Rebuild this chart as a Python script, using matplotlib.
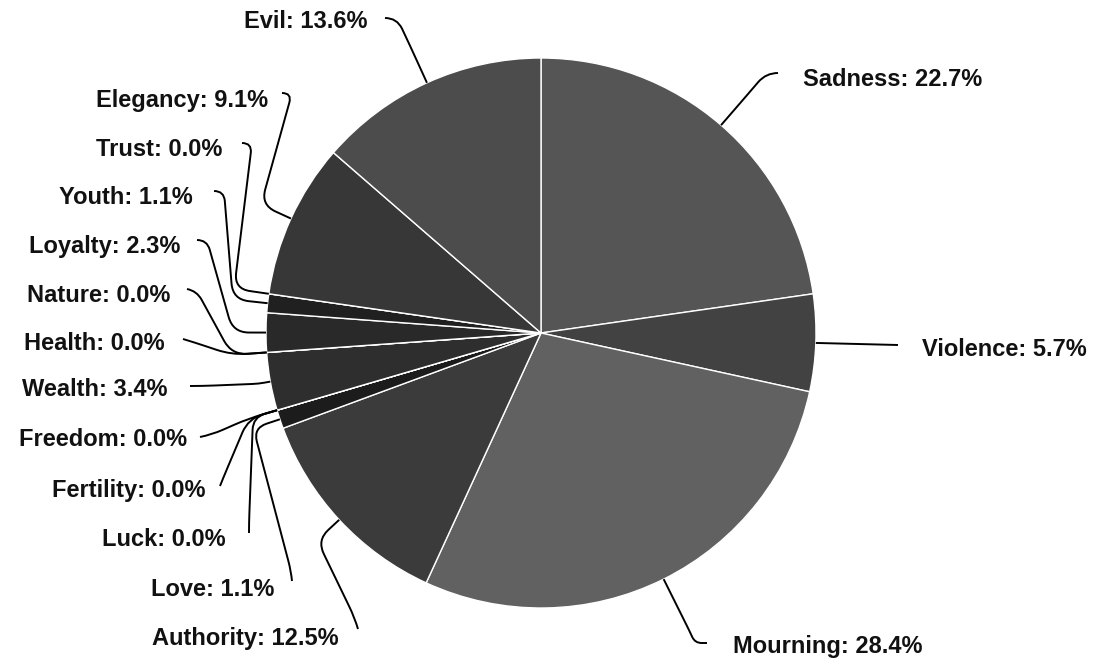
import matplotlib
matplotlib.use("Agg")
import matplotlib.pyplot as plt
from matplotlib.path import Path
from matplotlib.patches import PathPatch
import numpy as np

W, H = 1115, 659

# --- data ---
categories = ["Sadness", "Violence", "Mourning", "Authority", "Love", "Luck",
              "Fertility", "Freedom", "Wealth", "Health", "Nature", "Loyalty",
              "Youth", "Trust", "Elegancy", "Evil"]
shares = [22.7, 5.7, 28.4, 12.5, 1.1, 0.0,
          0.0, 0.0, 3.4, 0.0, 0.0, 2.3,
          1.1, 0.0, 9.1, 13.6]
greys = ["#555555", "#424242", "#616161", "#3b3b3b", "#1c1c1c", "#1c1c1c",
         "#1c1c1c", "#1c1c1c", "#2e2e2e", "#2e2e2e", "#2e2e2e", "#292929",
         "#202020", "#202020", "#373737", "#4c4c4c"]

# label layout in pixel coords (y measured from the top):
# text x, text centre y, alignment, leader end (x, y), exit direction (dx, dy),
# hook length, elbow arm
LAYOUT = {
    "Sadness":   (803, 77, "left", (778, 73), (-1, 0), 12, 40),
    "Violence":  (922, 348, "left", (898, 345), (-1, 0), 0, 0),
    "Mourning":  (733, 645, "left", (707, 643), (-1, 0), 12, 58),
    "Authority": (339, 636, "right", (358, 629), (-0.3, -1), 12, 30),
    "Love":      (274, 588, "right", (292, 581), (-0.1, -1), 10, 28),
    "Luck":      (226, 538, "right", (249, 533), (0, -1), 10, 25),
    "Fertility": (205, 489, "right", (220, 486), (0.4, -1), 10, 30),
    "Freedom":   (187, 438, "right", (200, 437), (1, -0.2), 12, 30),
    "Wealth":    (168, 388, "right", (190, 386), (1, 0), 12, 12),
    "Health":    (165, 342, "right", (183, 339), (1, 0.3), 12, 35),
    "Nature":    (170, 294, "right", (187, 289), (1, 0.2), 10, 35),
    "Loyalty":   (180, 244, "right", (197, 240), (1, 0), 10, 33),
    "Youth":     (193, 195, "right", (214, 191), (1, 0), 10, 35),
    "Trust":     (222, 147, "right", (242, 143), (1, 0), 10, 35),
    "Elegancy":  (268, 99, "right", (282, 93), (1, 0), 10, 33),
    "Evil":      (367, 20, "right", (385, 18), (1, 0), 12, 40),
}

CENTER = (541, H - 333)
RADIUS = 275
FONT = dict(family=["Liberation Sans", "DejaVu Sans"], fontweight="bold",
            fontsize=17, color="#111111")


def leader_path(pts, r=16):
    """Polyline through pts; the first corner bends straight out of the
    start point, the others are rounded with radius r."""
    pts = [np.asarray(p, float) for p in pts]
    verts, codes = [pts[0]], [Path.MOVETO]
    for i in range(1, len(pts) - 1):
        p, v, n = pts[i - 1], pts[i], pts[i + 1]
        d1, d2 = v - p, n - v
        l1, l2 = np.hypot(*d1), np.hypot(*d2)
        if l1 < 1e-6 or l2 < 1e-6:
            continue
        lim1 = l1 if i == 1 else 0.5 * l1
        rr = min(r, lim1, 0.5 * l2)
        a = v - d1 / l1 * rr
        b = v + d2 / l2 * rr
        verts += [a, v, b]
        codes += [Path.LINETO, Path.CURVE3, Path.CURVE3]
    verts.append(pts[-1])
    codes.append(Path.LINETO)
    return Path(verts, codes)


fig = plt.figure(figsize=(W / 100, H / 100), dpi=100)
ax = fig.add_axes([0, 0, 1, 1])

wedges, _ = ax.pie(shares, colors=greys, startangle=90, counterclock=False,
                   center=CENTER, radius=RADIUS,
                   wedgeprops=dict(edgecolor="white", linewidth=1.0))

for wedge, name, val in zip(wedges, categories, shares):
    tx, ty, ha, (lx, ly), (ex, ey), hook, arm = LAYOUT[name]
    mid = np.deg2rad((wedge.theta1 + wedge.theta2) / 2)
    radial = np.array([np.cos(mid), np.sin(mid)])
    edge = np.array(CENTER) + RADIUS * radial
    end = np.array([lx, H - ly], float)
    pts = [end]
    if hook:
        e = np.array([ex, -ey], float)
        pts.append(end + e / np.hypot(*e) * hook)
    if arm:
        pts.append(edge + arm * radial)
    pts.append(edge)
    ax.add_patch(PathPatch(leader_path(pts), facecolor="none",
                           edgecolor="black", lw=1.4, zorder=3))
    ax.text(tx, H - (ty + 8.5), f"{name}: {val:.1f}%", ha=ha, va="baseline", **FONT)

ax.set_xlim(0, W)
ax.set_ylim(0, H)
ax.set_aspect("equal")
ax.set_axis_off()

fig.savefig("out.png", dpi=100, facecolor="white")
